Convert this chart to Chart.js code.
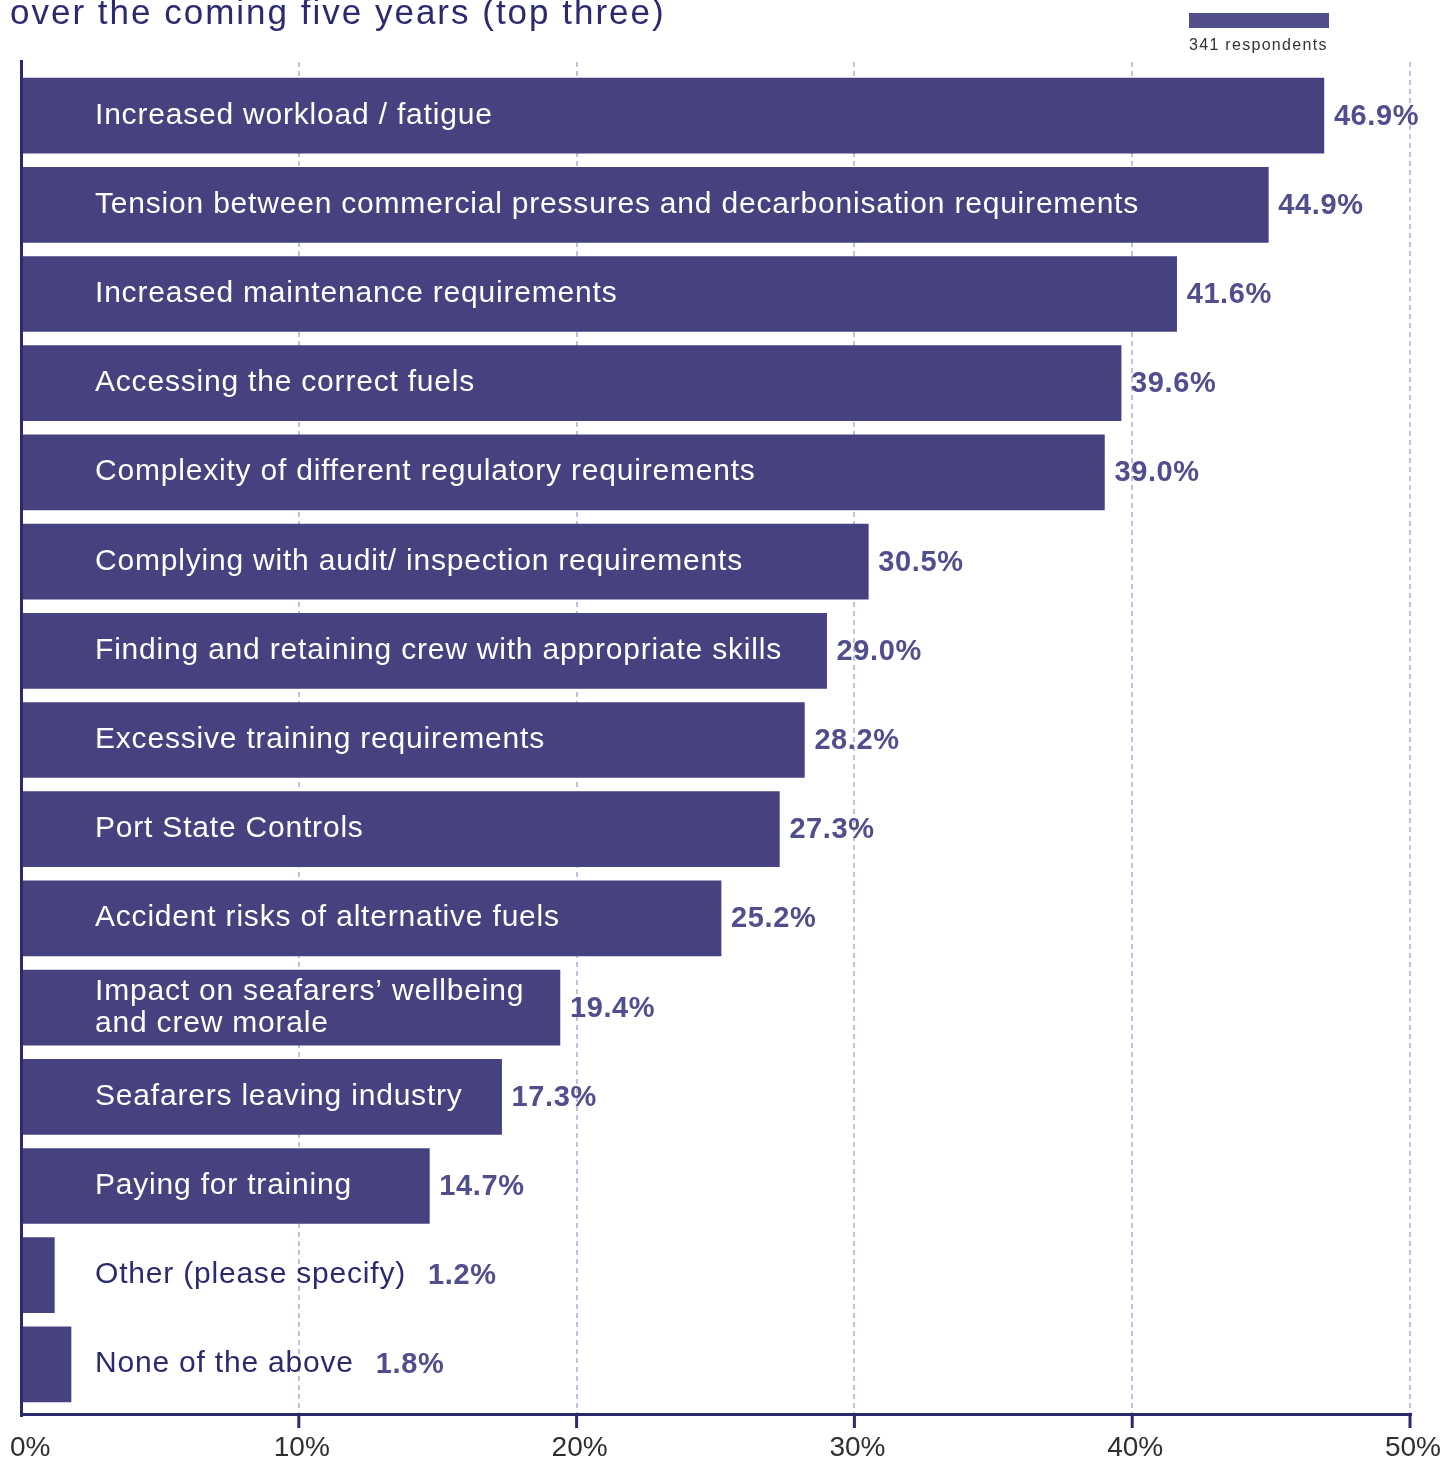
<!DOCTYPE html>
<html>
<head>
<meta charset="utf-8">
<script src="https://cdn.jsdelivr.net/npm/chart.js@4.4.1/dist/chart.umd.min.js"></script>
<style>
  html, body { margin: 0; padding: 0; background: #fff; }
  #wrap { width: 1444px; height: 1458px; }
</style>
</head>
<body>
<div id="wrap"><canvas id="chart" width="1444" height="1458"></canvas></div>
<script>
// Survey answers, share of respondents (%)
const titleText = 'over the coming five years (top three)';
const legendText = '341 respondents';

const categories = [
  'Increased workload / fatigue',
  'Tension between commercial pressures and decarbonisation requirements',
  'Increased maintenance requirements',
  'Accessing the correct fuels',
  'Complexity of different regulatory requirements',
  'Complying with audit/ inspection requirements',
  'Finding and retaining crew with appropriate skills',
  'Excessive training requirements',
  'Port State Controls',
  'Accident risks of alternative fuels',
  ['Impact on seafarers’ wellbeing', 'and crew morale'],
  'Seafarers leaving industry',
  'Paying for training',
  'Other (please specify)',
  'None of the above'
];
const shares = [46.9, 44.9, 41.6, 39.6, 39.0, 30.5, 29.0, 28.2, 27.3, 25.2, 19.4, 17.3, 14.7, 1.2, 1.8];
const tickValues = [0, 10, 20, 30, 40, 50];

const BAR = '#46427f';
const NAVY = '#2b2a6e';
const VALUE = '#514e8e';
const GRID = '#c2bfdf';
const TICK_TEXT = '#2f2f2f';
const FONT = '"Liberation Sans", Arial, Helvetica, sans-serif';

const LABEL_X = 95;

const decorations = {
  id: 'decorations',

  beforeDatasetsDraw(chart) {
    const { ctx, scales: { x } } = chart;
    // dashed vertical gridlines
    ctx.save();
    ctx.strokeStyle = GRID;
    ctx.lineWidth = 2;
    ctx.setLineDash([5, 4]);
    tickValues.forEach(v => {
      if (v === 0) return;
      const px = Math.round(x.getPixelForValue(v));
      ctx.beginPath();
      ctx.moveTo(px, 62);
      ctx.lineTo(px, 1414);
      ctx.stroke();
    });
    ctx.restore();
  },

  afterDatasetsDraw(chart) {
    const { ctx, scales: { x } } = chart;
    const meta = chart.getDatasetMeta(0);
    const x0 = x.getPixelForValue(0);
    const x50 = x.getPixelForValue(50);

    ctx.save();

    // axes
    ctx.fillStyle = NAVY;
    ctx.fillRect(x0 - 1, 60, 3, 1357);
    ctx.fillRect(x0 - 1, 1413, x50 - x0 + 3, 3);
    tickValues.forEach(v => {
      if (v === 0) return;
      const px = x.getPixelForValue(v);
      ctx.fillRect(px - 1.5, 1414, 3, 14);
    });

    // tick labels
    ctx.font = '28px ' + FONT;
    ctx.fillStyle = TICK_TEXT;
    ctx.textBaseline = 'alphabetic';
    ctx.textAlign = 'center';
    tickValues.forEach(v => {
      const txt = v + '%';
      const w = ctx.measureText(txt).width;
      let cx = x.getPixelForValue(v) + 3;
      if (cx - w / 2 < 10) cx = 10 + w / 2;
      ctx.fillText(txt, cx, 1456);
    });

    // category and value labels
    ctx.textAlign = 'left';
    meta.data.forEach((bar, i) => {
      const lines = Array.isArray(categories[i]) ? categories[i] : [categories[i]];
      ctx.font = '30px ' + FONT;
      ctx.letterSpacing = '0.8px';
      const textW = Math.max(...lines.map(l => ctx.measureText(l).width));
      const inside = LABEL_X + textW + 8 < bar.x;
      ctx.fillStyle = inside ? '#ffffff' : NAVY;
      const lh = 32;
      const firstBase = bar.y + 8 - (lines.length - 1) * lh / 2;
      lines.forEach((l, j) => ctx.fillText(l, LABEL_X, firstBase + j * lh));

      ctx.font = 'bold 29px ' + FONT;
      ctx.letterSpacing = '0.6px';
      ctx.fillStyle = VALUE;
      const vx = inside ? bar.x + 10 : LABEL_X + textW + 22;
      ctx.fillText(shares[i].toFixed(1) + '%', vx, bar.y + 9);
    });

    // title (runs off the top edge)
    ctx.font = '35px ' + FONT;
    ctx.letterSpacing = '2px';
    ctx.fillStyle = NAVY;
    ctx.fillText(titleText, 10, 24);

    // legend
    ctx.fillStyle = '#524f8b';
    ctx.fillRect(1189, 13, 140, 15);
    ctx.font = '16px ' + FONT;
    ctx.letterSpacing = '1.3px';
    ctx.fillStyle = '#333333';
    ctx.fillText(legendText, 1189, 50);

    ctx.restore();
  }
};

new Chart(document.getElementById('chart'), {
  type: 'bar',
  data: {
    labels: categories,
    datasets: [{
      data: shares,
      backgroundColor: BAR,
      borderWidth: 0,
      barThickness: 75
    }]
  },
  options: {
    indexAxis: 'y',
    responsive: false,
    animation: false,
    layout: { padding: { left: 21, right: 34, top: 71, bottom: 49 } },
    scales: {
      x: { type: 'linear', min: 0, max: 50, display: false },
      y: { type: 'category', offset: true, display: false }
    },
    plugins: {
      legend: { display: false },
      tooltip: { enabled: false }
    }
  },
  plugins: [decorations]
});
</script>
</body>
</html>
